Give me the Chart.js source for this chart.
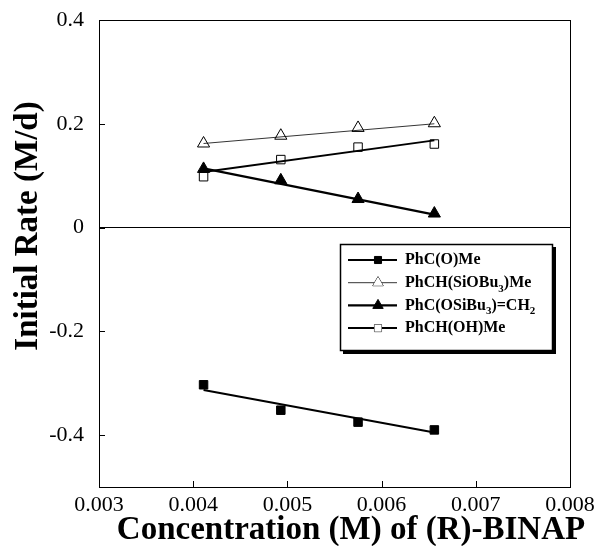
<!DOCTYPE html>
<html>
<head>
<meta charset="utf-8">
<script src="https://cdn.jsdelivr.net/npm/chart.js@4.4.1/dist/chart.umd.min.js"></script>
<style>
  html, body { margin: 0; padding: 0; background: #fff; }
  #wrap { width: 596px; height: 546px; }
</style>
</head>
<body>
<div id="wrap"><canvas id="myChart" width="596" height="546"></canvas></div>
<script>
// (R)-BINAP concentration, M
const conc = [0.00411, 0.00493, 0.00575, 0.00656];

// initial rates, M/d
const ketone = [-0.303, -0.352, -0.375, -0.390];      // PhC(O)Me
const silylEther = [0.162, 0.177, 0.192, 0.201];      // PhCH(SiOBu3)Me
const enolEther = [0.113, 0.091, 0.055, 0.027];       // PhC(OSiBu3)=CH2
const alcohol = [0.098, 0.131, 0.155, 0.161];         // PhCH(OH)Me

// straight-line fits, value at first and last concentration
const fitX = [0.00411, 0.00656];
const ketoneFit = [-0.313, -0.395];
const silylEtherFit = [0.162, 0.200];
const enolEtherFit = [0.114, 0.025];
const alcoholFit = [0.107, 0.168];

const xTicks = [0.003, 0.004, 0.005, 0.006, 0.007, 0.008];
const yTicks = [-0.4, -0.2, 0, 0.2, 0.4];

const xTitle = 'Concentration (M) of (R)-BINAP';
const yTitle = 'Initial Rate (M/d)';

const series = [
    { label: 'PhC(O)Me', sub: null, y: ketone, fit: ketoneFit, style: 'rect', fill: '#000', width: 2.2, r: 6 },
    { label: 'PhCH(SiOBu3)Me', sub: ['PhCH(SiOBu', '3', ')Me'], y: silylEther, fit: silylEtherFit, style: 'triangle', fill: '#fff', width: 0.8, r: 7 },
    { label: 'PhC(OSiBu3)=CH2', sub: ['PhC(OSiBu', '3', ')=CH', '2'], y: enolEther, fit: enolEtherFit, style: 'triangle', fill: '#000', width: 2.2, r: 7 },
    { label: 'PhCH(OH)Me', sub: null, y: alcohol, fit: alcoholFit, style: 'rect', fill: '#fff', width: 2, r: 6 },
];

const datasets = [];
series.forEach(s => {
    datasets.push({
        label: s.label + ' fit',
        data: fitX.map((x, i) => ({ x: x, y: s.fit[i] })),
        showLine: true,
        borderColor: '#000',
        borderWidth: s.width,
        pointRadius: 0,
    });
    datasets.push({
        label: s.label,
        data: conc.map((x, i) => ({ x: x, y: s.y[i] })),
        showLine: false,
        pointStyle: s.style,
        pointRadius: s.r,
        backgroundColor: s.fill,
        borderColor: '#000',
        borderWidth: 1,
    });
});

const serif = '"Liberation Serif", "Times New Roman", serif';

// frame, inward tick marks, axis titles and the legend box
const frame = {
    id: 'frame',
    afterDraw(chart) {
        const ctx = chart.ctx;
        const a = chart.chartArea;
        const xs = chart.scales.x, ys = chart.scales.y;
        ctx.save();
        ctx.strokeStyle = '#000';
        ctx.lineWidth = 1;
        ctx.strokeRect(a.left + 0.5, a.top + 0.5, a.right - a.left, a.bottom - a.top);
        ctx.beginPath();
        xTicks.forEach(v => {
            const px = Math.round(xs.getPixelForValue(v)) + 0.5;
            ctx.moveTo(px, a.bottom); ctx.lineTo(px, a.bottom - 6);
        });
        yTicks.forEach(v => {
            const py = Math.round(ys.getPixelForValue(v)) + 0.5;
            ctx.moveTo(a.left, py); ctx.lineTo(a.left + 6, py);
        });
        ctx.stroke();

        // axis titles
        ctx.fillStyle = '#000';
        ctx.font = 'bold 33px ' + serif;
        ctx.textAlign = 'center';
        ctx.textBaseline = 'middle';
        ctx.fillText(xTitle, 351, 530);
        ctx.save();
        ctx.translate(28, 226);
        ctx.rotate(-Math.PI / 2);
        ctx.fillText(yTitle, 0, 0);
        ctx.restore();
        ctx.textAlign = 'left';

        // legend
        const bx = 340, by = 244, bw = 212, bh = 106;
        ctx.fillStyle = '#fff';
        ctx.fillRect(bx, by, bw, bh);
        ctx.lineWidth = 1.5;
        ctx.strokeRect(bx + 0.5, by + 0.5, bw, bh);
        ctx.lineWidth = 3;
        ctx.beginPath();
        ctx.moveTo(bx + 3, by + bh + 2.5);
        ctx.lineTo(bx + bw + 2.5, by + bh + 2.5);
        ctx.lineTo(bx + bw + 2.5, by + 3);
        ctx.stroke();

        series.forEach((s, i) => {
            const y = by + 16 + i * 22.7;
            ctx.strokeStyle = '#000';
            ctx.lineWidth = s.width;
            ctx.beginPath();
            ctx.moveTo(bx + 8, y); ctx.lineTo(bx + 57, y);
            ctx.stroke();
            ctx.fillStyle = s.fill;
            ctx.lineWidth = 1;
            Chart.helpers.drawPoint(ctx, { pointStyle: s.style, radius: s.r - 1, borderWidth: 1 }, bx + 38, y);
            if (s.fill === '#fff') ctx.fill();
            ctx.fillStyle = '#000';
            ctx.textBaseline = 'middle';
            let tx = bx + 65;
            const parts = s.sub || [s.label];
            parts.forEach((p, k) => {
                const isSub = k % 2 === 1;
                ctx.font = (isSub ? 'bold 11px ' : 'bold 16px ') + serif;
                ctx.fillText(p, tx, isSub ? y + 6 : y);
                tx += ctx.measureText(p).width;
            });
        });
        ctx.restore();
    }
};

const tickFont = { family: 'Liberation Serif', size: 22 };

const config = {
    type: 'scatter',
    data: { datasets: datasets },
    options: {
        responsive: false,
        animation: false,
        layout: { padding: { top: 20, right: 26, left: 0, bottom: 0 } },
        plugins: {
            legend: { display: false },
            tooltip: { enabled: false },
        },
        scales: {
            x: {
                type: 'linear',
                min: 0.003,
                max: 0.008,
                afterBuildTicks: s => { s.ticks = xTicks.map(v => ({ value: v })); },
                afterFit: s => { s.height = 59; s.paddingLeft = 0; s.paddingRight = 0; },
                grid: { display: false, drawTicks: false },
                border: { display: false },
                ticks: {
                    font: tickFont, color: '#000', padding: 5, maxRotation: 0,
                    callback: v => v.toFixed(3),
                },
            },
            y: {
                min: -0.5,
                max: 0.4,
                afterBuildTicks: s => { s.ticks = yTicks.map(v => ({ value: v })); },
                afterFit: s => { s.width = 99; s.paddingTop = 0; s.paddingBottom = 0; },
                grid: {
                    drawTicks: false,
                    color: c => (c.tick && c.tick.value === 0 ? '#000' : 'rgba(0,0,0,0)'),
                },
                border: { display: false },
                ticks: {
                    font: tickFont, color: '#000', padding: 15,
                    callback: v => (v === 0 ? '0' : v.toFixed(1)),
                },
            },
        },
    },
    plugins: [frame],
};

const myChart = new Chart(document.getElementById('myChart'), config);
</script>
</body>
</html>
